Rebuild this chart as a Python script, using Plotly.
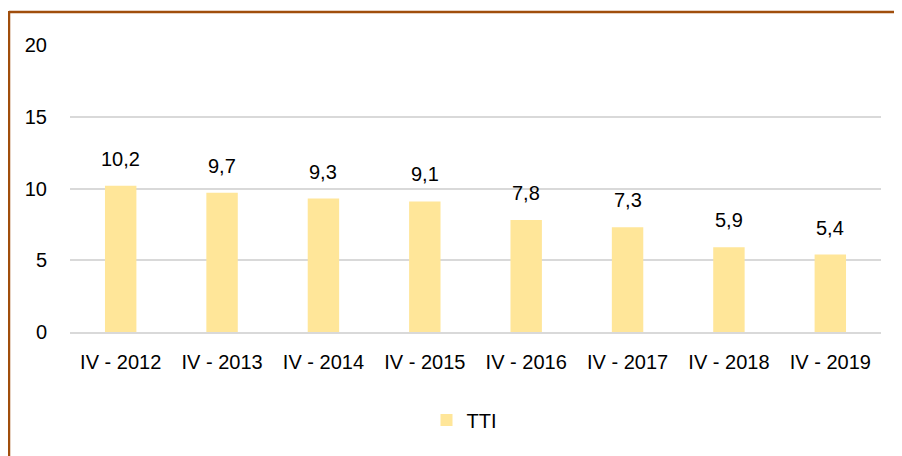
import plotly.graph_objects as go

categories = ["IV - 2012", "IV - 2013", "IV - 2014", "IV - 2015",
              "IV - 2016", "IV - 2017", "IV - 2018", "IV - 2019"]
tti_values = [10.2, 9.7, 9.3, 9.1, 7.8, 7.3, 5.9, 5.4]
y_ticks = [0, 5, 10, 15, 20]
series_name = "TTI"

FONT = "Liberation Sans, Arial, sans-serif"
FS = 20
BAR_COLOR = "#FFE699"
GRID = "#D9D9D9"
BORDER = "#A04E0C"

# page body adds an 8px offset; lay out in figure coordinates
OFF = 8
W, H = 902, 456
L = 70 - OFF
T = 45 - OFF
pw = 881 - 70
ph = 332 - 45
R = W - L - pw
B = H - T - ph

fig = go.Figure()
fig.add_trace(go.Bar(
    x=categories, y=tti_values, name=series_name,
    marker=dict(color=BAR_COLOR, line=dict(width=0)),
    width=0.31,
))

for c, v in zip(categories, tti_values):
    fig.add_annotation(
        x=c, y=v, text=f"{v:.1f}".replace(".", ","),
        showarrow=False, yanchor="bottom", yshift=14,
        font=dict(family=FONT, size=FS, color="#000000"),
    )

def px_x(p):
    return (p - OFF - L) / pw

def px_y(p):
    return (T + ph - (p - OFF)) / ph

# chart-area frame (top and left edges visible)
fig.add_shape(type="line", xref="paper", yref="paper",
              x0=px_x(9), x1=px_x(W + 20), y0=px_y(12), y1=px_y(12),
              line=dict(color=BORDER, width=2.5))
fig.add_shape(type="line", xref="paper", yref="paper",
              x0=px_x(9), x1=px_x(9), y0=px_y(11), y1=px_y(H + 20),
              line=dict(color=BORDER, width=2.5))

fig.update_layout(
    width=W, height=H,
    margin=dict(l=L, r=R, t=T, b=B, pad=0),
    paper_bgcolor="white", plot_bgcolor="white",
    font=dict(family=FONT, size=FS, color="#000000"),
    bargap=0.69,
    showlegend=True,
    legend=dict(orientation="h", x=(464 - 70) / pw, xanchor="center",
                y=px_y(420), yanchor="middle",
                font=dict(family=FONT, size=FS, color="#000000"),
                itemwidth=30),
    xaxis=dict(showgrid=False, showline=True, linecolor=GRID, linewidth=2,
               ticks="", tickfont=dict(family=FONT, size=FS), ticklabelstandoff=11),
    yaxis=dict(range=[0, 20], tickvals=y_ticks, showgrid=True, gridcolor=GRID,
               gridwidth=2, zeroline=False, showline=False, ticks="",
               tickfont=dict(family=FONT, size=FS), ticklabelstandoff=22),
)

fig.write_html("out.html")
